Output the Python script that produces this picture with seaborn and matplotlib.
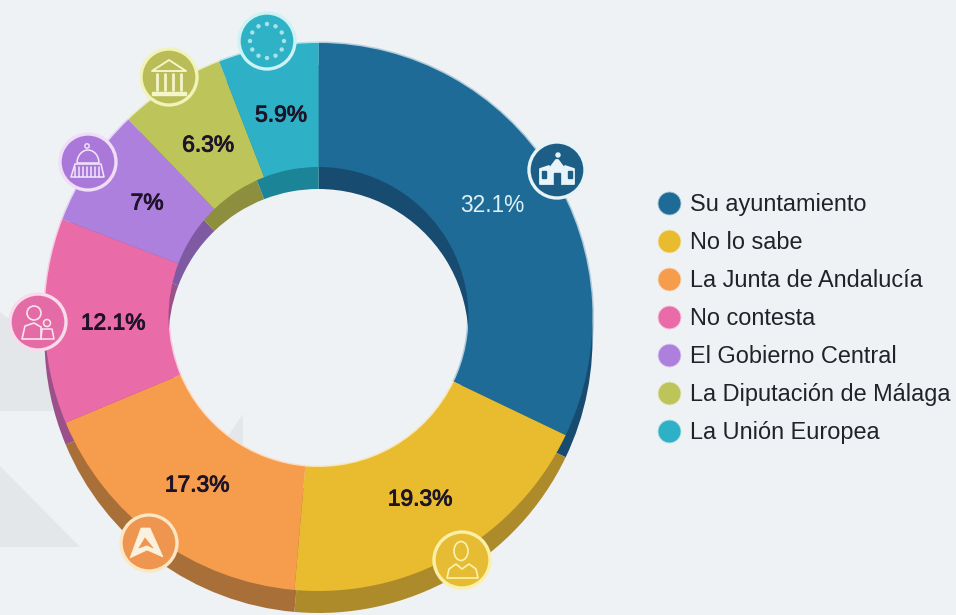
#!/usr/bin/env python3
"""Donut chart: who is responsible, with extruded rim, round icons and a legend."""

import numpy as np
import matplotlib.patheffects as pe
import matplotlib.pyplot as plt
import seaborn as sns
from matplotlib.colors import to_rgb
from matplotlib.lines import Line2D
from matplotlib.patches import Circle, Ellipse, Polygon, Rectangle

CATEGORIES = [
    "Su ayuntamiento",
    "No lo sabe",
    "La Junta de Andalucía",
    "No contesta",
    "El Gobierno Central",
    "La Diputación de Málaga",
    "La Unión Europea",
]
VALUES = [32.1, 19.3, 17.3, 12.1, 7, 6.3, 5.9]

FACE_COLORS = ["#1F6B97", "#E8BC2E", "#F59C4D", "#E96BA8", "#AE80DE", "#BCC45A", "#2EB0C6"]
WALL_COLORS = ["#174B70", "#AD8B2B", "#A96F39", "#9C5089", "#7E5AA3", "#8E8E3F", "#1B8497"]
BADGE_COLORS = ["#1D5E87", "#E6BC35", "#EE9650", "#E46CA6", "#AA78D8", "#B9BC57", "#2FB1C6"]
RIM_COLORS = ["#E6F4F7", "#FBF0A8", "#FCE6C4", "#F9DCEC", "#F0DDF8", "#F1F3B8", "#CDF3F5"]

BG = "#EEF2F5"
W, H = 956, 615
CX, CY = 318.5, 317
R_OUT, R_IN, DEPTH = 274, 150, 22

LABEL_XY = [(492, 206), (420, 499), (197, 485), (113, 323), (147, 203), (208, 145), (281, 115)]
BADGE_XY = [(557, 170), (462, 560), (149, 543), (38, 322), (88, 162), (169, 77), (267, 41)]


def y_(py):
    # picture pixels run downwards, the axes run upwards
    return H - py


def mix_white(color, amount):
    return tuple(c + (1 - c) * amount for c in to_rgb(color))


def ring(ax, colors, center, r_out, r_in):
    ax.pie(
        VALUES,
        colors=colors,
        center=center,
        radius=r_out,
        startangle=90,
        counterclock=False,
        wedgeprops={"width": r_out - r_in, "linewidth": 0},
    )


def outline(ax, pts, color, lw=1.3, fill=False, closed=True):
    xy = [(x, y_(y)) for x, y in pts]
    ax.add_patch(
        Polygon(xy, closed=closed, fill=fill, facecolor=color if fill else "none",
                edgecolor=color, linewidth=lw, joinstyle="round", zorder=7)
    )


def icon_hall(ax, x, y):
    c = "#E8F4F8"
    outline(ax, [(x - 17, y + 14), (x - 17, y - 1), (x - 8, y - 4), (x - 8, y + 14)], c, fill=True)
    outline(ax, [(x + 17, y + 14), (x + 17, y - 1), (x + 8, y - 4), (x + 8, y + 14)], c, fill=True)
    outline(ax, [(x - 7, y + 14), (x - 7, y - 2), (x - 1, y - 10), (x + 1, y - 10), (x + 7, y - 2), (x + 7, y + 14)], c, fill=True)
    for dx in (-13, 13):
        ax.add_patch(Rectangle((x + dx - 2, y_(y + 8)), 4, 7, color=BADGE_COLORS[0], zorder=8))
    ax.add_patch(Rectangle((x - 3, y_(y + 14)), 6, 11, color=BADGE_COLORS[0], zorder=8))
    ax.add_patch(Circle((x + 1, y_(y - 15)), 2, color=c, zorder=8))


def icon_person(ax, x, y):
    c = "#FBF2B0"
    ax.add_patch(Ellipse((x - 1, y_(y - 9)), 14, 19, fill=False, edgecolor=c, linewidth=1.2, zorder=7))
    outline(ax, [(x - 15, y + 18), (x - 13, y + 9), (x - 6, y + 4), (x, y + 9), (x + 7, y + 4),
                 (x + 14, y + 9), (x + 16, y + 18)], c, lw=1.2)


def icon_a(ax, x, y):
    c = "#FBF1DC"
    outline(ax, [(x - 8, y - 15), (x + 1, y - 15), (x + 14, y + 14), (x - 2, y + 7), (x - 19, y + 15)], c, fill=True, lw=0.5)
    outline(ax, [(x - 4, y - 5), (x + 4, y + 5), (x - 2, y + 2), (x - 10, y + 5)], BADGE_COLORS[2], fill=True, lw=0.5)


def icon_nurse(ax, x, y):
    c = "#FBE3F0"
    ax.add_patch(Circle((x - 4, y_(y - 9)), 7, fill=False, edgecolor=c, linewidth=1.2, zorder=7))
    outline(ax, [(x - 16, y + 17), (x - 13, y + 4), (x - 4, y + 1), (x + 3, y + 5), (x + 3, y + 17)], c, lw=1.2)
    ax.add_patch(Circle((x + 9, y_(y + 1)), 3.5, fill=False, edgecolor=c, linewidth=1.1, zorder=7))
    outline(ax, [(x + 3, y + 17), (x + 4, y + 7), (x + 14, y + 7), (x + 16, y + 17)], c, lw=1.1)


def icon_capitol(ax, x, y):
    c = "#F3E6FB"
    ax.add_patch(Circle((x - 1, y_(y - 16)), 2.2, fill=False, edgecolor=c, linewidth=1, zorder=7))
    theta = np.linspace(0, np.pi, 16)
    dome = [(x + 11 * np.cos(t), y + 1 - 13 * np.sin(t)) for t in theta]
    outline(ax, dome, c, lw=1.1)
    outline(ax, [(x - 13, y + 2), (x + 13, y + 2), (x + 16, y + 15), (x - 17, y + 15)], c, lw=1.1)
    for dx in range(-13, 14, 4):
        ax.plot([x + dx, x + dx], [y_(y + 5), y_(y + 15)], color=c, linewidth=1.1, zorder=7)


def icon_temple(ax, x, y):
    c = "#F4F5C9"
    outline(ax, [(x - 17, y - 6), (x, y - 17), (x + 17, y - 6)], c, lw=1.4)
    for dx in (-12, -4, 4, 12):
        ax.plot([x + dx, x + dx], [y_(y - 3), y_(y + 13)], color=c, linewidth=2, zorder=7)
    ax.add_patch(Rectangle((x - 17, y_(y + 18)), 34, 3.5, color=c, zorder=7))


def icon_stars(ax, x, y):
    for a in np.deg2rad(np.arange(0, 360, 30)):
        ax.add_patch(Circle((x + 17 * np.cos(a), y_(y) + 17 * np.sin(a)), 1.5, color="#A8E2EA", zorder=7))


def draw():
    sns.set_theme(style="white")
    plt.rcParams["font.family"] = ["Liberation Sans", "DejaVu Sans"]

    fig, ax = plt.subplots(figsize=(W / 100, H / 100), dpi=100)
    fig.patch.set_facecolor(BG)
    ax.set_position([0, 0, 1, 1])

    # faint background shapes behind the ring
    for pts in ([(0, 312), (60, 360), (60, 411), (0, 411)],
                [(0, 466), (80, 547), (0, 547)],
                [(243, 414), (243, 445), (222, 445)]):
        ax.add_patch(Polygon([(x, y_(y)) for x, y in pts], color="#E4E7EA", linewidth=0, zorder=0))

    faces = sns.color_palette(FACE_COLORS)
    walls = sns.color_palette(WALL_COLORS)
    rims = [mix_white(c, 0.65) for c in FACE_COLORS]

    # the pale rim goes under the wall so it only shows on the lit edges
    ring(ax, rims, (CX, y_(CY)), R_OUT + 1.5, R_IN - 1.5)
    ring(ax, walls, (CX, y_(CY + DEPTH)), R_OUT, R_IN)
    ring(ax, faces, (CX, y_(CY)), R_OUT, R_IN)

    ax.set_xlim(0, W)
    ax.set_ylim(0, H)
    ax.set_aspect("equal")
    ax.axis("off")

    for i, (val, (x, y)) in enumerate(zip(VALUES, LABEL_XY)):
        color = "#DDF1F6" if i == 0 else "#1E1428"
        txt = ax.text(x, y_(y), f"{val:g}%", ha="center", va="center", fontsize=16.4,
                      color=color, zorder=6)
        if i > 0:
            txt.set_path_effects([pe.withStroke(linewidth=0.7, foreground=color)])

    for fill, rim, (x, y) in zip(BADGE_COLORS, RIM_COLORS, BADGE_XY):
        ax.add_patch(Circle((x, y_(y)), 28, facecolor=fill, edgecolor=rim, linewidth=2.4, zorder=5))
    icons = [icon_hall, icon_person, icon_a, icon_nurse, icon_capitol, icon_temple, icon_stars]
    for icon, (x, y) in zip(icons, BADGE_XY):
        icon(ax, x, y)

    handles = [
        Line2D([], [], linestyle="none", marker="o", markersize=16.5, markerfacecolor=c,
               markeredgecolor=mix_white(c, 0.6), markeredgewidth=0.6)
        for c in FACE_COLORS
    ]
    ax.legend(
        handles,
        CATEGORIES,
        loc="center left",
        bbox_to_anchor=(651 / W, 1 - 318.5 / H),
        bbox_transform=ax.transAxes,
        frameon=False,
        fontsize=16.9,
        labelcolor="#20242A",
        labelspacing=0.64,
        handletextpad=0.15,
        handlelength=1.5,
        borderpad=0,
        borderaxespad=0,
    )

    fig.savefig("out.png", dpi=100, facecolor=BG)
    plt.close(fig)


if __name__ == "__main__":
    draw()
